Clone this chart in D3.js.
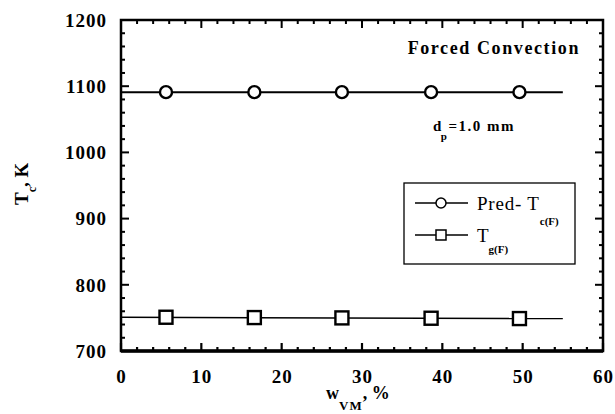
<!DOCTYPE html>
<html><head><meta charset="utf-8">
<script src="https://cdn.jsdelivr.net/npm/d3@7"></script>
<style>
body{margin:0;background:#fff;}
</style></head>
<body>
<svg id="c" width="615" height="414"></svg>
<script>
// Data
const wVM = [5.6, 16.6, 27.5, 38.6, 49.6];
const predTc = [1091, 1091, 1091, 1091, 1091];
const Tg = [751, 750.5, 750, 749.5, 749];
const lineX = [0, 55];
const xTicks = [0, 10, 20, 30, 40, 50, 60];
const yTicks = [700, 800, 900, 1000, 1100, 1200];

const FONT = "Liberation Serif";
const svg = d3.select("#c");
const L = 121, R = 603, T = 20, B = 351;
const x = d3.scaleLinear().domain([0, 60]).range([L, R]);
const y = d3.scaleLinear().domain([700, 1200]).range([B, T]);

// minor/major ticks inward on all sides
const g = svg.append("g");
const xMinor = d3.range(0, 61, 2);
const yMinor = d3.range(700, 1201, 20);
function isMajX(v){return v % 10 === 0;}
function isMajY(v){return v % 100 === 0;}
xMinor.forEach(v => {
  const len = isMajX(v) ? 8 : 4;
  g.append("line").attr("x1", x(v)).attr("x2", x(v)).attr("y1", B).attr("y2", B - len).attr("stroke", "#000").attr("stroke-width", 2.2);
  g.append("line").attr("x1", x(v)).attr("x2", x(v)).attr("y1", T).attr("y2", T + len).attr("stroke", "#000").attr("stroke-width", 2);
});
yMinor.forEach(v => {
  const len = isMajY(v) ? 8 : 4;
  g.append("line").attr("y1", y(v)).attr("y2", y(v)).attr("x1", L).attr("x2", L + len).attr("stroke", "#000").attr("stroke-width", 2);
  g.append("line").attr("y1", y(v)).attr("y2", y(v)).attr("x1", R).attr("x2", R - len).attr("stroke", "#000").attr("stroke-width", 2);
});
// frame
svg.append("rect").attr("x", L).attr("y", T).attr("width", R - L).attr("height", B - T)
  .attr("fill", "none").attr("stroke", "#000").attr("stroke-width", 2.5);
svg.append("line").attr("x1", L).attr("x2", R).attr("y1", B).attr("y2", B).attr("stroke", "#000").attr("stroke-width", 3.5);

// tick labels using axes
const xAxis = svg.append("g").attr("transform", `translate(0,${B})`)
  .call(d3.axisBottom(x).tickValues(xTicks).tickSize(0).tickPadding(0).tickFormat(d3.format("d")));
xAxis.select(".domain").remove();
xAxis.selectAll("text").attr("dy", null).attr("y", 32).attr("font-size", 19).attr("font-weight", "bold")
  .attr("fill", "#000").attr("letter-spacing", 1);
const yAxis = svg.append("g").attr("transform", `translate(107,0)`)
  .call(d3.axisLeft(y).tickValues(yTicks).tickSize(0).tickPadding(0).tickFormat(d3.format("d")));
yAxis.select(".domain").remove();
yAxis.selectAll("text").attr("dy", "0.33em").attr("x", 0).attr("font-size", 19).attr("font-weight", "bold")
  .attr("fill", "#000").attr("letter-spacing", 1);

// series lines
const ln = d3.line().x(d => x(d[0])).y(d => y(d[1]));
svg.append("path").attr("d", ln(lineX.map(v => [v, predTc[0]]))).attr("stroke", "#000").attr("stroke-width", 2).attr("fill", "none");
svg.append("path").attr("d", ln(lineX.map((v, i) => [v, i === 0 ? Tg[0] : Tg[Tg.length - 1]]))).attr("stroke", "#000").attr("stroke-width", 1.5).attr("fill", "none");

svg.append("g").selectAll("circle").data(wVM).join("circle")
  .attr("cx", d => x(d)).attr("cy", (d, i) => y(predTc[i])).attr("r", 6)
  .attr("fill", "#fff").attr("stroke", "#000").attr("stroke-width", 2.4);
svg.append("g").selectAll("rect").data(wVM).join("rect")
  .attr("x", d => x(d) - 6.5).attr("y", (d, i) => y(Tg[i]) - 6.5).attr("width", 13).attr("height", 13)
  .attr("fill", "#fff").attr("stroke", "#000").attr("stroke-width", 2.4);

// annotations
svg.append("text").attr("x", 580).attr("y", 54).attr("text-anchor", "end").attr("font-size", 18)
  .attr("font-weight", "bold").attr("letter-spacing", 1.6).text("Forced Convection");
const dp = svg.append("text").attr("x", 433).attr("y", 131).attr("font-size", 15).attr("font-weight", "bold").attr("letter-spacing", 1.5);
dp.append("tspan").text("d");
dp.append("tspan").attr("font-size", 11).attr("dy", 9).attr("dx", -2).text("p");
dp.append("tspan").attr("dy", -9).text("=1.0 mm");

// legend
svg.append("rect").attr("x", 404).attr("y", 183).attr("width", 171).attr("height", 81)
  .attr("fill", "#fff").attr("stroke", "#000").attr("stroke-width", 1.3);
svg.append("line").attr("x1", 415).attr("x2", 468).attr("y1", 203).attr("y2", 203).attr("stroke", "#000").attr("stroke-width", 1.5);
svg.append("circle").attr("cx", 441).attr("cy", 203).attr("r", 5).attr("fill", "#fff").attr("stroke", "#000").attr("stroke-width", 1.5);
svg.append("line").attr("x1", 415).attr("x2", 468).attr("y1", 235).attr("y2", 235).attr("stroke", "#000").attr("stroke-width", 1.5);
svg.append("rect").attr("x", 436).attr("y", 230).attr("width", 10).attr("height", 10).attr("fill", "#fff").attr("stroke", "#000").attr("stroke-width", 1.5);
const l1 = svg.append("text").attr("x", 477).attr("y", 210).attr("font-size", 19).attr("letter-spacing", 0.8);
l1.append("tspan").text("Pred- T");
l1.append("tspan").attr("font-size", 11).attr("font-weight", "bold").attr("dy", 15).attr("letter-spacing", 0).text("c(F)");
const l2 = svg.append("text").attr("x", 477).attr("y", 242).attr("font-size", 19);
l2.append("tspan").text("T");
l2.append("tspan").attr("font-size", 11).attr("font-weight", "bold").attr("dy", 11).text("g(F)");

// axis titles
const xt = svg.append("text").attr("x", 326).attr("y", 399).attr("font-size", 18).attr("font-weight", "bold");
xt.append("tspan").text("w");
xt.append("tspan").attr("font-size", 13).attr("letter-spacing", 1).attr("dy", 11).text("VM");
xt.append("tspan").attr("dy", -11).text(", %");
const yt = svg.append("text").attr("transform", "translate(28,205) rotate(-90)").attr("font-size", 19).attr("font-weight", "bold");
yt.append("tspan").text("T");
yt.append("tspan").attr("font-size", 12).attr("dy", 8).text("c");
yt.append("tspan").attr("dy", -8).text(", K");

svg.selectAll("text").attr("font-family", FONT);
</script>
</body></html>
